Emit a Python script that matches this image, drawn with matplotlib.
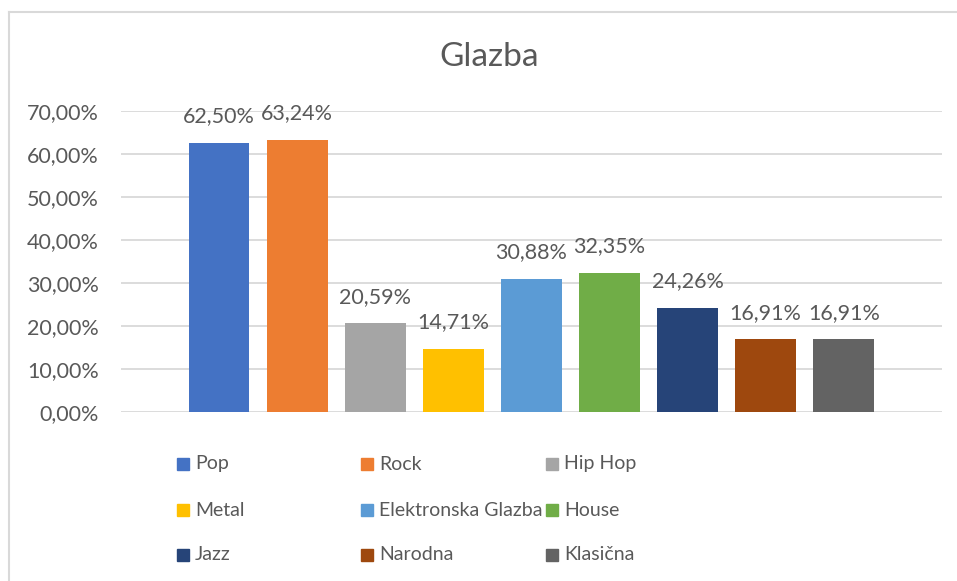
import matplotlib.pyplot as plt
from matplotlib.patches import Rectangle
from matplotlib.lines import Line2D
from matplotlib.ticker import FuncFormatter

zanrovi = ["Pop", "Rock", "Hip Hop", "Metal", "Elektronska Glazba",
           "House", "Jazz", "Narodna", "Klasična"]
postoci = [62.50, 63.24, 20.59, 14.71, 30.88, 32.35, 24.26, 16.91, 16.91]
boje = ["#4472C4", "#ED7D31", "#A5A5A5", "#FFC000", "#5B9BD5",
        "#70AD47", "#264478", "#9E480E", "#636363"]
y_oznake = [0, 10, 20, 30, 40, 50, 60, 70]

SIVA = "#595959"
plt.rcParams['font.family'] = ['Lato', 'DejaVu Sans']

def hr_postotak(v, pos=None):
    # decimalni zarez kao u hrvatskom formatu
    return f"{v:.2f}".replace(".", ",") + "%"

fig = plt.figure(figsize=(9.57, 5.81), dpi=100)
W, H = 957, 581

ax = fig.add_axes([121 / W, 1 - 412 / H, (942 - 121) / W, (412 - 111) / H])

x = list(range(len(zanrovi)))
stupci = ax.bar(x, postoci, width=0.78, color=boje, zorder=3)

for xi, v in zip(x, postoci):
    ax.annotate(hr_postotak(v), (xi, v), xytext=(0, 12), textcoords="offset points",
                ha="center", va="bottom", fontsize=15.5, color=SIVA)

ax.set_xlim(-1.255, 9.258)
ax.set_ylim(0, 70)
ax.set_yticks(y_oznake)
ax.yaxis.set_major_formatter(FuncFormatter(hr_postotak))
ax.tick_params(axis="y", length=0, pad=16, labelsize=15.5, labelcolor=SIVA)
ax.set_xticks([])
ax.grid(axis="y", color="#D9D9D9", linewidth=1.3, zorder=0)
for s in ax.spines.values():
    s.set_visible(False)

fig.text(489 / W, 1 - 57 / H, "Glazba", ha="center", va="center",
         fontsize=24, color=SIVA)

# legenda u tri jednaka stupca
stupci_x = [177, 361, 546]
redovi_y = [464, 510, 555]
for i, (ime, boja) in enumerate(zip(zanrovi, boje)):
    lx = stupci_x[i % 3]
    ly = redovi_y[i // 3]
    fig.patches.append(Rectangle((lx / W, 1 - (ly + 6) / H), 12 / W, 12 / H,
                                 transform=fig.transFigure, color=boja))
    fig.text((lx + 18) / W, 1 - ly / H, ime, ha="left", va="center",
             fontsize=14, color=SIVA)

# okvir grafikona
fig.add_artist(Line2D([9 / W, 1], [1 - 12 / H, 1 - 12 / H], color="#D9D9D9", linewidth=1.5))
fig.add_artist(Line2D([9 / W, 9 / W], [0, 1 - 12 / H], color="#D9D9D9", linewidth=1.5))

fig.savefig("out.png", dpi=100, facecolor="white")
